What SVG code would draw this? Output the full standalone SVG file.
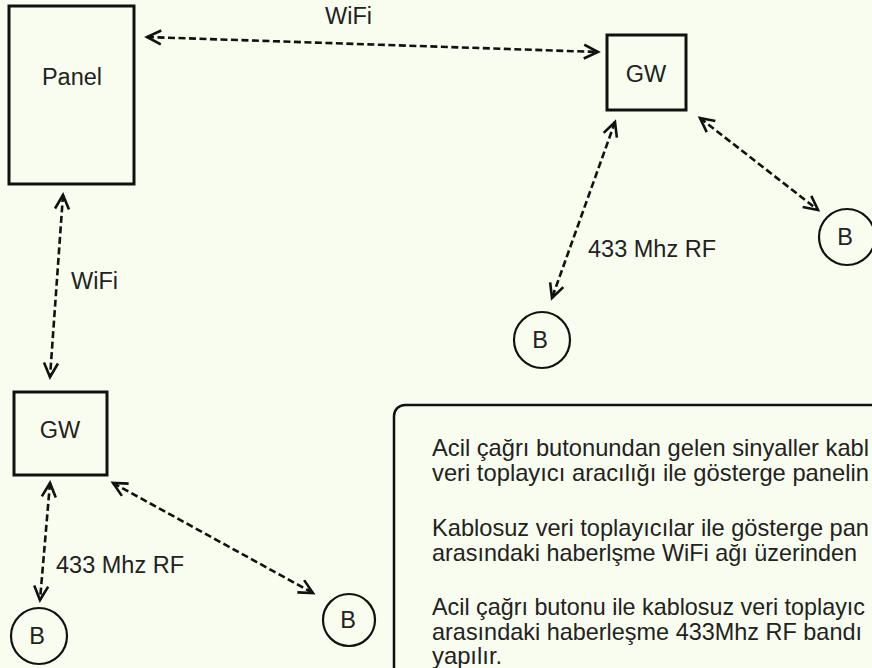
<svg xmlns="http://www.w3.org/2000/svg" width="872" height="668" viewBox="0 0 872 668">
<defs>
<style>
.bg{fill:#f9fdf0}
.box{fill:none;stroke:#111;stroke-width:3}
.circ{fill:none;stroke:#111;stroke-width:2.2}
.note{fill:none;stroke:#111;stroke-width:2.5}
.t{font-family:"Liberation Sans",Arial,sans-serif;font-size:23.5px;fill:#222}
.p{font-size:23.8px}
.c{text-anchor:middle}
.link{fill:none;stroke:#111;stroke-width:2.6;stroke-dasharray:7 3.5;marker-start:url(#ah);marker-end:url(#ah)}
</style>
<marker id="ah" markerUnits="userSpaceOnUse" markerWidth="20" markerHeight="20" viewBox="-16 -10 20 20" refX="0" refY="0" orient="auto-start-reverse" overflow="visible">
<path d="M-14,-7 L0,0 L-14,7" fill="none" stroke="#111" stroke-width="2.6" stroke-linejoin="miter"/>
</marker>
</defs>
<rect class="bg" x="0" y="0" width="872" height="668"/>

<g id="connectors">
<line class="link" x1="147" y1="37" x2="598" y2="52"/>
<line class="link" x1="63" y1="195" x2="50" y2="377"/>
<line class="link" x1="615" y1="122" x2="552" y2="298"/>
<line class="link" x1="700" y1="118" x2="818" y2="210"/>
<line class="link" x1="50" y1="483" x2="40" y2="600"/>
<line class="link" x1="113" y1="483" x2="313" y2="593"/>
<text class="t" x="325" y="24">WiFi</text>
<text class="t" x="71" y="289">WiFi</text>
<text class="t" x="588" y="257">433 Mhz RF</text>
<text class="t" x="56" y="573">433 Mhz RF</text>
</g>

<g id="panel">
<rect class="box" x="9" y="6" width="125" height="178"/>
<text class="t c" x="72" y="85">Panel</text>
</g>
<g id="gw-top">
<rect class="box" x="607" y="35" width="79" height="75"/>
<text class="t c" x="646" y="82">GW</text>
</g>
<g id="gw-bottom">
<rect class="box" x="14" y="392" width="93" height="83"/>
<text class="t c" x="60" y="438">GW</text>
</g>
<g id="b-top-left">
<circle class="circ" cx="542" cy="340" r="28"/>
<text class="t c" x="540" y="348">B</text>
</g>
<g id="b-top-right">
<circle class="circ" cx="847" cy="237" r="28"/>
<text class="t c" x="845" y="245">B</text>
</g>
<g id="b-bottom-left">
<circle class="circ" cx="39" cy="636" r="28"/>
<text class="t c" x="37" y="644">B</text>
</g>
<g id="b-bottom-mid">
<circle class="circ" cx="349" cy="620" r="26"/>
<text class="t c" x="348" y="628">B</text>
</g>

<g id="note">
<rect class="note" x="394" y="405" width="520" height="320" rx="11" ry="11"/>
<text class="t p" x="432" y="456" textLength="437" lengthAdjust="spacingAndGlyphs">Acil çağrı butonundan gelen sinyaller kabl</text>
<text class="t p" x="432" y="481" textLength="437" lengthAdjust="spacingAndGlyphs">veri toplayıcı aracılığı ile gösterge panelin</text>
<text class="t p" x="432" y="536" textLength="437" lengthAdjust="spacingAndGlyphs">Kablosuz veri toplayıcılar ile gösterge pan</text>
<text class="t p" x="432" y="561" textLength="425" lengthAdjust="spacingAndGlyphs">arasındaki haberlşme WiFi ağı üzerinden</text>
<text class="t p" x="432" y="615" textLength="433" lengthAdjust="spacingAndGlyphs">Acil çağrı butonu ile kablosuz veri toplayıc</text>
<text class="t p" x="432" y="640" textLength="430" lengthAdjust="spacingAndGlyphs">arasındaki haberleşme 433Mhz RF bandı</text>
<text class="t p" x="432" y="664">yapılır.</text>
</g>
</svg>
